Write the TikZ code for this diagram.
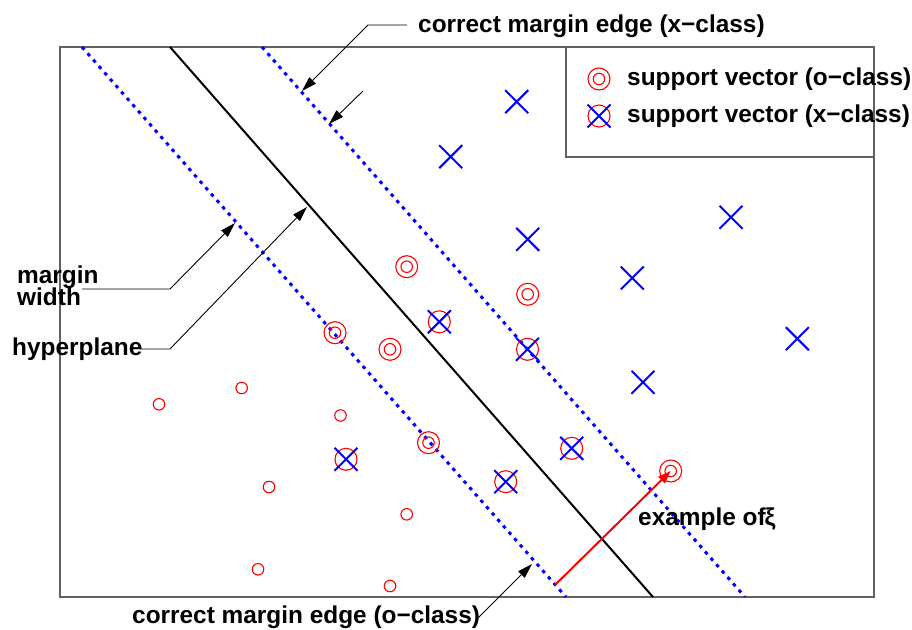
\documentclass[tikz,border=0pt]{standalone}
\usepackage{fontspec}
\setmainfont{Liberation Sans}
\usetikzlibrary{arrows.meta,shapes.misc}
\begin{document}
\begin{tikzpicture}[x=1pt,y=-1pt,
  lbl/.style={anchor=base west,inner sep=0pt,font=\fontsize{24.4}{22}\selectfont\bfseries},
  frame/.style={draw=black!62,line width=1.5pt},
  marginline/.style={draw=blue,line width=3pt,dash pattern=on 3.5pt off 5pt},
  hyper/.style={draw=black,line width=2pt},
  leader/.style={draw=black,line width=0.9pt,-{Triangle[length=15pt,width=9pt]}},
  xm/.style={cross out,draw=blue,line width=2pt,minimum size=21pt,inner sep=0pt},
  bigc/.style={circle,draw=red,line width=1.1pt,minimum size=22pt,inner sep=0pt},
  smallc/.style={circle,draw=red,line width=1.1pt,minimum size=11.5pt,inner sep=0pt}]
\useasboundingbox (0,0) rectangle (912,629);
% frame
\draw[frame] (60,47) rectangle (874,597);
% lines
\coordinate (mlT) at (82,47);  \coordinate (mlB) at (566,597);
\coordinate (hT)  at (170,47); \coordinate (hB)  at (653,597);
\coordinate (mrT) at (262,47); \coordinate (mrB) at (745,597);
\draw[marginline] (mlT) -- (mlB);
\draw[marginline] (mrT) -- (mrB);
\draw[hyper] (hT) -- (hB);
% x-class points
\foreach \p [count=\i] in {(516.7,101.7),(450.7,156.7),(527.7,239.3),(731,217.3),(632.3,278),(797.3,338.7),(643,382.3)}
  \node[xm] (xp\i) at \p {};
% x-class support vectors
\foreach \p [count=\i] in {(439.3,321.8),(527.5,349.3),(346,459.3),(571.7,448.3),(505.7,481.7)}{
  \node[bigc] (xs\i) at \p {};
  \node[xm] (xsx\i) at \p {};}
% o-class support vectors
\foreach \p [count=\i] in {(406.7,266.7),(527.7,294.3),(335,332.7),(390,349.3),(428.5,442.7),(670.7,471)}{
  \node[bigc] (os\i) at \p {};
  \node[smallc] (osi\i) at \p {};}
% o-class points
\foreach \p [count=\i] in {(159,404.3),(241.7,388),(340.5,415.5),(269,487),(406.7,514.3),(258,569.3),(390,586)}
  \node[smallc] (op\i) at \p {};
% legend
\draw[frame] (566,47) rectangle (874,157);
\node[bigc] (lego) at (599,79) {};
\node[smallc] (legoi) at (599,79) {};
\node[bigc] (legx) at (599,116) {};
\node[xm] (legxx) at (599,116) {};
\node[lbl] (legot) at (627,85) {support vector (o−class)};
\node[lbl] (legxt) at (627,122) {support vector (x−class)};
% labels
\node[lbl] (tlab) at (418,32) {correct margin edge (x−class)};
\node[lbl] (mw1) at (17,283) {margin};
\node[lbl] (mw2) at (17,305) {width};
\node[lbl] (hyp) at (12,355) {hyperplane};
\node[lbl] (blab) at (132,623) {correct margin edge (o−class)};
\node[lbl] (exl) at (638,525) {example of\kern-1pt ξ};
% leaders
\coordinate (t0) at (407,25); \coordinate (t1) at (368,25); \coordinate (t2) at (302,91);
\draw[leader] (t0) -- (t1) -- (t2);
\coordinate (s0) at (363,91); \coordinate (s1) at (329,124);
\draw[leader] (s0) -- (s1);
\coordinate (m0) at (82,289); \coordinate (m1) at (170,289); \coordinate (m2) at (235,223);
\draw[leader] (m0) -- (m1) -- (m2);
\coordinate (h0) at (140,349); \coordinate (h1) at (170,349); \coordinate (h2) at (307,207);
\draw[leader] (h0) -- (h1) -- (h2);
\coordinate (b0) at (478,618); \coordinate (b1) at (532,564);
\draw[leader] (b0) -- (b1);
% example of xi
\coordinate (r0) at (555,585);
\draw[draw=red,line width=2pt,-{Triangle[length=13pt,width=9pt]}] (r0) -- (os6.center);
\end{tikzpicture}
\end{document}
